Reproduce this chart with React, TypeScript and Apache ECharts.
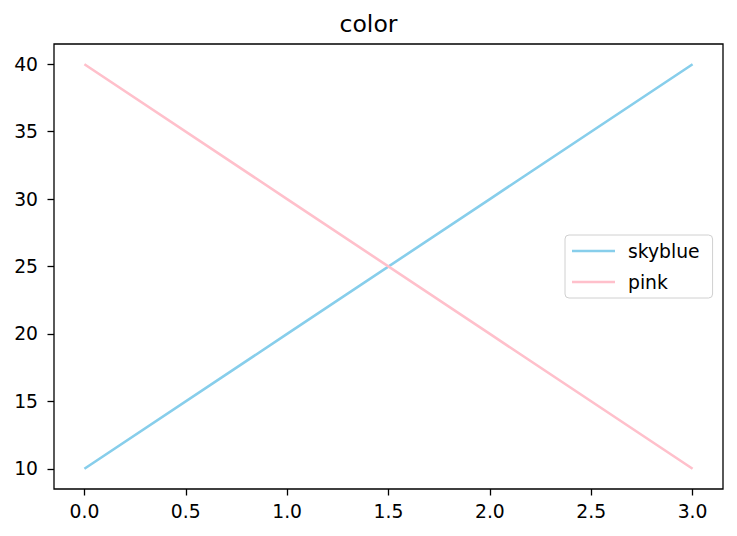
import React, { useEffect, useRef } from "react";
import * as echarts from "echarts";

const xValues = [0, 1, 2, 3];
const skyblueValues = [10, 20, 30, 40];
const pinkValues = [40, 30, 20, 10];
const xTicks = [0, 0.5, 1, 1.5, 2, 2.5, 3];
const yTicks = [10, 15, 20, 25, 30, 35, 40];

const FONT = "DejaVu Sans";

export default function App() {
  const ref = useRef<HTMLDivElement>(null);
  useEffect(() => {
    if (!ref.current) return;
    const chart = echarts.init(ref.current, null, { renderer: "svg" });
    chart.setOption({
      animation: false,
      backgroundColor: "#ffffff",
      title: {
        text: "color",
        left: "center",
        top: 12,
        padding: 0,
        textStyle: { fontFamily: FONT, fontSize: 23.5, fontWeight: "normal", color: "#000" },
      },
      grid: {
        left: 54,
        right: 14,
        top: 44,
        bottom: 47,
        show: true,
        borderColor: "#000",
        borderWidth: 1.3,
        backgroundColor: "transparent",
      },
      legend: {
        orient: "vertical",
        left: 565,
        top: 235,
        padding: [6, 13, 6, 7],
        icon: "rect",
        itemWidth: 43,
        itemHeight: 2.6,
        itemGap: 11,
        borderColor: "#d0d0d0",
        borderWidth: 1,
        borderRadius: 4,
        backgroundColor: "rgba(255,255,255,0.8)",
        textStyle: {
          fontFamily: FONT,
          fontSize: 18.75,
          lineHeight: 20,
          color: "#000",
          padding: [0, 0, 0, 8],
        },
        data: ["skyblue", "pink"],
      },
      xAxis: {
        type: "value",
        min: -0.15,
        max: 3.15,
        axisLine: { show: false, onZero: false },
        splitLine: { show: false },
        axisTick: {
          show: true,
          length: 6.5,
          customValues: xTicks,
          lineStyle: { color: "#000", width: 1.3 },
        },
        axisLabel: {
          customValues: xTicks,
          margin: 13,
          fontFamily: FONT,
          fontSize: 18.75,
          color: "#000",
          formatter: (v: number) => v.toFixed(1),
        },
      },
      yAxis: {
        type: "value",
        min: 8.5,
        max: 41.5,
        axisLine: { show: false, onZero: false },
        splitLine: { show: false },
        axisTick: {
          show: true,
          length: 6.5,
          customValues: yTicks,
          lineStyle: { color: "#000", width: 1.3 },
        },
        axisLabel: {
          customValues: yTicks,
          margin: 16,
          fontFamily: FONT,
          fontSize: 18.75,
          color: "#000",
          formatter: (v: number) => String(v),
        },
      },
      series: [
        {
          name: "skyblue",
          type: "line",
          symbol: "none",
          color: "#87CEEB",
          lineStyle: { width: 2.6, color: "#87CEEB" },
          data: xValues.map((x, i) => [x, skyblueValues[i]]),
        },
        {
          name: "pink",
          type: "line",
          symbol: "none",
          color: "#FFC0CB",
          lineStyle: { width: 2.6, color: "#FFC0CB" },
          data: xValues.map((x, i) => [x, pinkValues[i]]),
        },
      ],
    });
    return () => chart.dispose();
  }, []);
  return (
    <div
      ref={ref}
      style={{ position: "absolute", left: 0, top: 0, width: 737, height: 536 }}
    />
  );
}
